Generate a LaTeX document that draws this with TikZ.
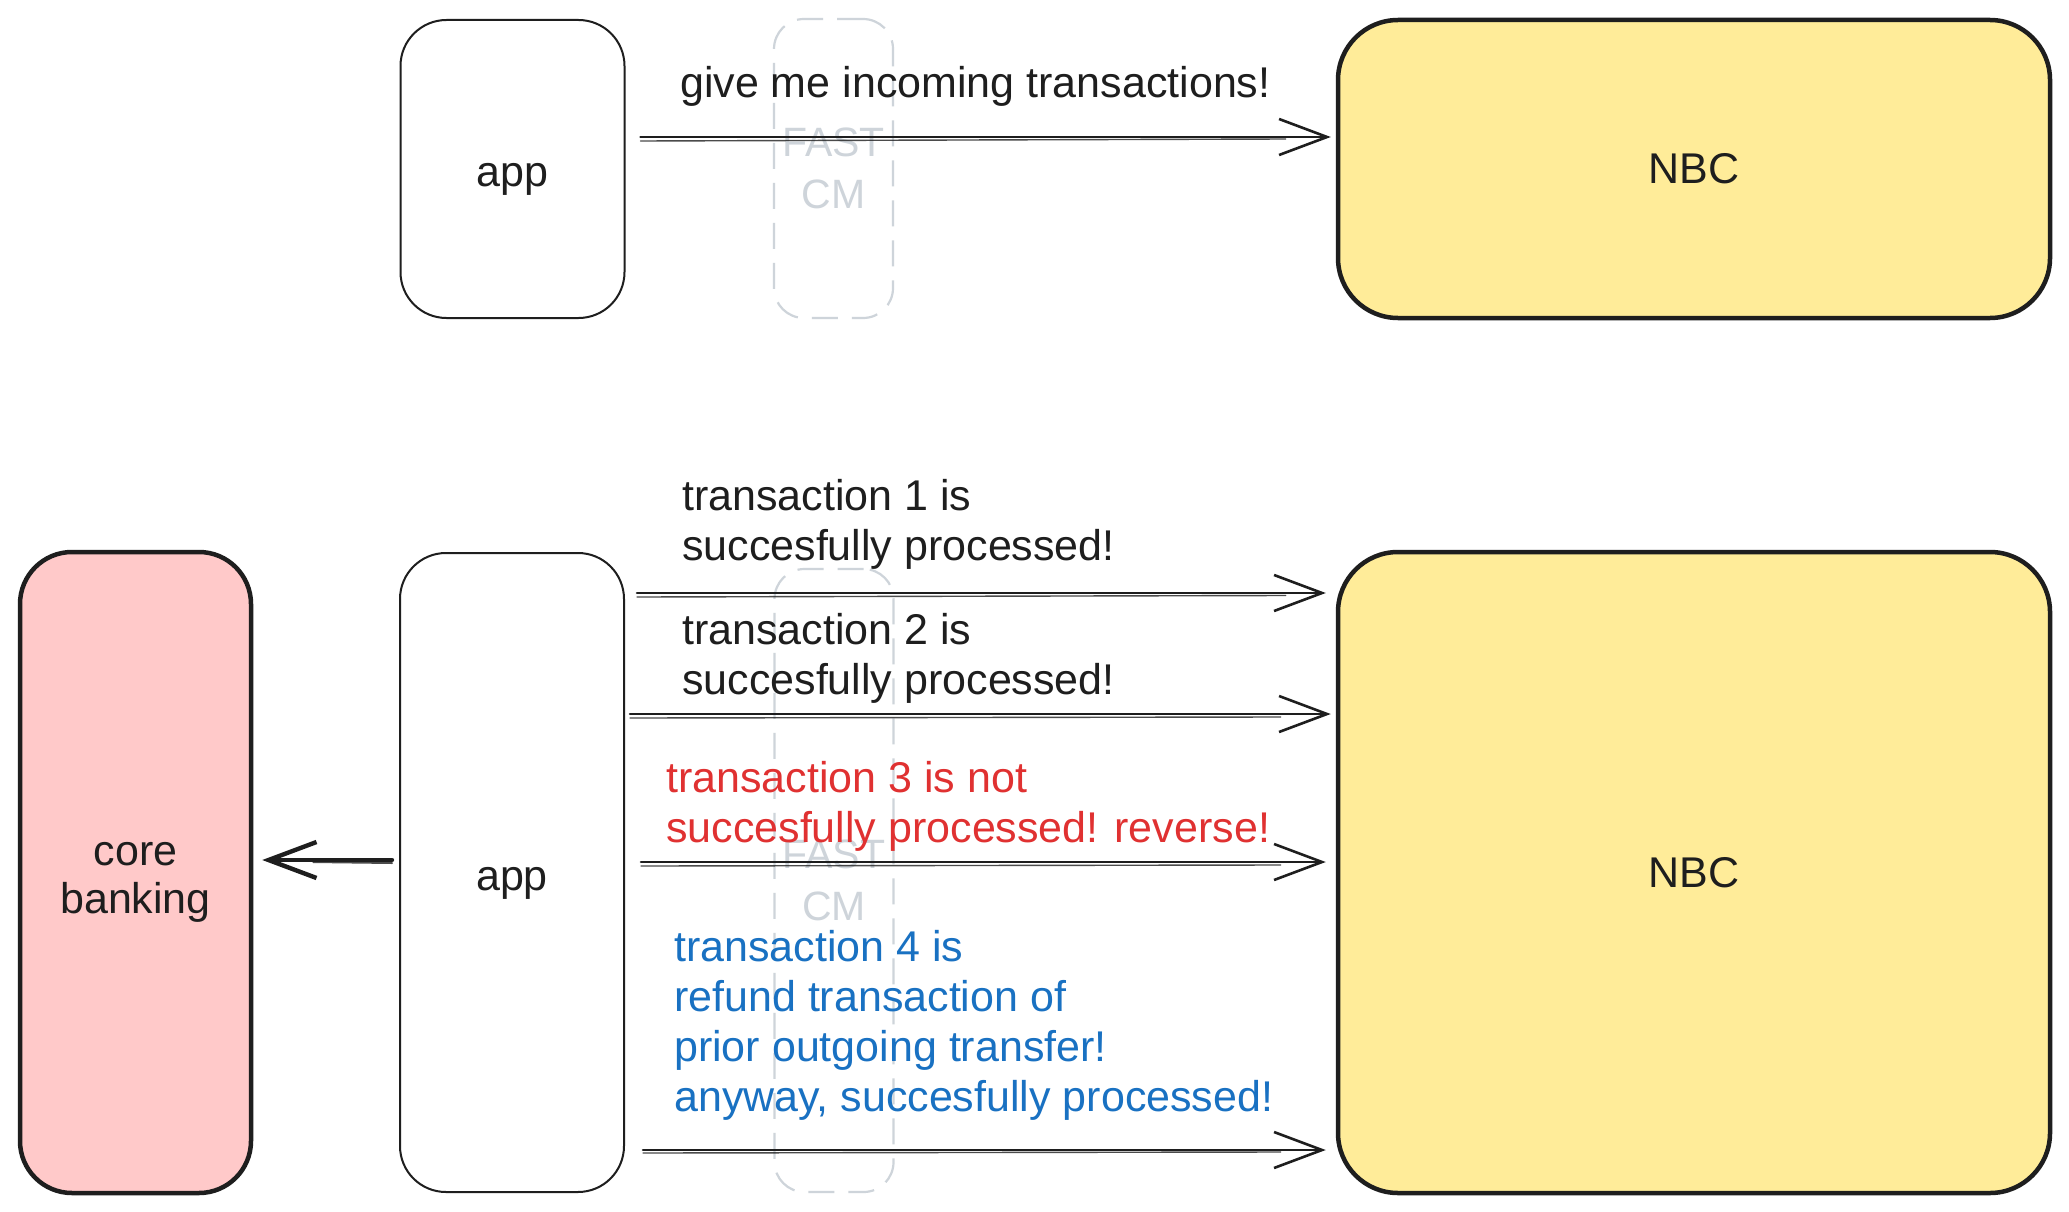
\documentclass[tikz,border=0pt]{standalone}
\usepackage{fontspec}
\setmainfont{Liberation Sans}
\usetikzlibrary{arrows.meta,calc}
\definecolor{ink}{HTML}{1E1E1E}
\definecolor{nbcfill}{HTML}{FFEC99}
\definecolor{corefill}{HTML}{FFC9C9}
\definecolor{ghost}{HTML}{CED4DA}
\definecolor{redtxt}{HTML}{E03131}
\definecolor{bluetxt}{HTML}{1971C2}
\tikzset{
  lbl/.style={font=\fontsize{43}{50}\selectfont, text=ink, align=left, inner sep=0pt},
  boxlbl/.style={font=\fontsize{43}{48}\selectfont, text=ink, align=center, inner sep=0pt},
  appbox/.style={draw=ink, line width=2pt, rounded corners=46pt, fill=white,
    minimum width=224pt, minimum height=298pt, inner sep=0pt},
  ghostbox/.style={draw=ghost, line width=2.2pt, dash pattern=on 26pt off 14pt,
    rounded corners=30pt, minimum width=119pt, inner sep=0pt, align=center,
    font=\fontsize{41}{52}\selectfont, text=ghost},
  nbcbox/.style={draw=ink, line width=4.5pt, rounded corners=60pt, fill=nbcfill,
    minimum width=712pt, inner sep=0pt, font=\fontsize{43}{50}\selectfont, text=ink},
  corebox/.style={draw=ink, line width=4.5pt, rounded corners=52pt, fill=corefill,
    minimum width=231pt, minimum height=641pt, inner sep=0pt},
  arr/.style={draw=ink, line width=2.6pt, line cap=round, line join=round,
    -{Straight Barb[length=48pt,width=36pt]}},
  arrthick/.style={draw=ink, line width=4.4pt, line cap=round, line join=round,
    -{Straight Barb[length=48pt,width=36pt]}},
  sketch/.style={draw=ink, line width=1.4pt, line cap=round, opacity=0.8},
}
\begin{document}
\begin{tikzpicture}[x=1pt,y=-1pt]
\useasboundingbox[fill=white] (0,0) rectangle (2069,1212);

% ---------- top row ----------
\node[ghostbox, minimum height=299pt] (fastA) at (833.5,168.5) {FAST\\CM};
\node[appbox, label={[boxlbl, yshift=-10pt]center:app}] (appA) at (512.5,169) {};
\node[nbcbox, minimum height=298pt] (nbcA) at (1694,169) {NBC};

\draw[sketch] ($(appA.east)+(15,-28)$) -- ($(nbcA.west)+(-50,-30)$);
\draw[arr] ($(appA.east)+(15,-32)$) -- ($(nbcA.west)+(-5,-32)$);
\node[lbl, anchor=west] (tgive) at (680,86) {give me incoming transactions!};

% ---------- bottom row ----------
\node[ghostbox, minimum height=623pt] (fastB) at (834,880.5) {FAST\\CM};
\node[corebox, label={[boxlbl, yshift=-10pt]center:core\\banking}] (core) at (135.5,872.5) {};
\node[appbox, minimum height=639pt, label={[boxlbl, yshift=-11pt]center:app}] (appB) at (512,872.5) {};
\node[nbcbox, minimum height=641pt] (nbcB) at (1694,872.5) {NBC};

% arrow 1
\draw[sketch] ($(appB.east)+(12,-275.5)$) -- ($(nbcB.west)+(-50,-277)$);
\draw[arr] ($(appB.east)+(12,-279.5)$) -- ($(nbcB.west)+(-10,-279.5)$);
% arrow 2
\draw[sketch] ($(appB.east)+(5,-154.5)$) -- ($(nbcB.west)+(-55,-155.5)$);
\draw[arr] ($(appB.east)+(5,-158.5)$) -- ($(nbcB.west)+(-5,-158.5)$);
% arrow 3
\draw[sketch] ($(appB.east)+(16,-6.5)$) -- ($(nbcB.west)+(-55,-7.5)$);
\draw[arr] ($(appB.east)+(16,-10.5)$) -- ($(nbcB.west)+(-10,-10.5)$);
% arrow 4
\draw[sketch] ($(appB.east)+(18,280.5)$) -- ($(nbcB.west)+(-55,279.5)$);
\draw[arr] ($(appB.east)+(18,277.5)$) -- ($(nbcB.west)+(-10,277.5)$);
% arrow to core banking
\draw[sketch, line width=2pt] ($(appB.west)+(-7,-9.5)$) -- ($(core.east)+(60,-10.5)$);
\draw[arrthick] ($(appB.west)+(-7,-12.5)$) -- ($(core.east)+(9,-12.5)$);

% labels
\node[lbl, anchor=west] (t1) at (682,524) {transaction 1 is\\succesfully processed!};
\node[lbl, anchor=west] (t2) at (682,658) {transaction 2 is\\succesfully processed!};
\node[lbl, anchor=west, text=redtxt] (t3) at (666,806) {transaction 3 is not\\succesfully processed! reverse!};
\node[lbl, anchor=west, text=bluetxt] (t4) at (674,1025) {transaction 4 is\\refund transaction of\\prior outgoing transfer!\\anyway, succesfully processed!};
\end{tikzpicture}
\end{document}
